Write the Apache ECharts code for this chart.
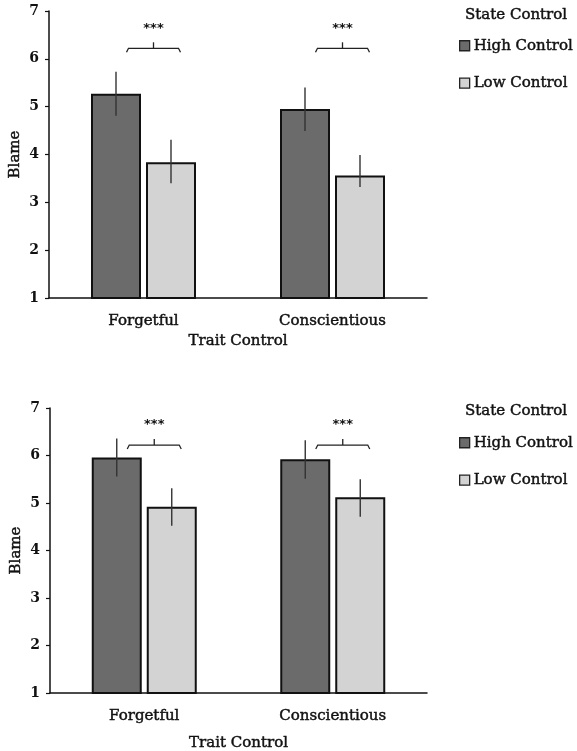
<!DOCTYPE html>
<html>
<head>
<meta charset="utf-8">
<script src="https://cdn.jsdelivr.net/npm/echarts/dist/echarts.min.js"></script>
<style>
  html, body { margin: 0; padding: 0; background: #fff; }
  #chart { width: 577px; height: 751px; }
</style>
</head>
<body>
<div id="chart"></div>
<script>
// Trait control groups on the x axis, state control as the two bars per group
const categories = ['Forgetful', 'Conscientious'];
const stateNames = ['High Control', 'Low Control'];
const yMin = 1, yMax = 7, yStep = 1;

// Upper panel: mean blame and error-bar bounds [low, high]
const topHigh = [5.27, 4.95];
const topLow = [3.84, 3.56];
const topHighErr = [[4.81, 5.73], [4.49, 5.40]];
const topLowErr = [[3.40, 4.31], [3.32, 3.99]];

// Lower panel
const botHigh = [5.96, 5.92];
const botLow = [4.92, 5.12];
const botHighErr = [[5.56, 6.36], [5.51, 6.32]];
const botLowErr = [[4.52, 5.31], [4.71, 5.50]];

// Significance brackets (same in both panels)
const sigLabels = ['***', '***'];
const bracketY = [6.22, 6.22];
const starY = [6.64, 6.64];

const FONT = 'DejaVu Serif';
const INK = '#111';
const BAR_W = 50;
const BAR_GAP = 5;
const HALF_STEP = (BAR_W + BAR_GAP) / 2;
// a faint outline of the same ink gives the serif text a little more weight
const HEAVY = { textBorderColor: INK, textBorderWidth: 0.45 };

function errSeries(name, grid, errs, side) {
  return {
    type: 'custom', name: name, xAxisIndex: grid, yAxisIndex: grid, z: 5,
    silent: true,
    data: errs.map((e, i) => [i, e[0], e[1]]),
    encode: { x: 0, y: [1, 2] },
    renderItem: function (params, api) {
      const c = api.value(0);
      const lo = api.coord([c, api.value(1)]);
      const hi = api.coord([c, api.value(2)]);
      const x = lo[0] + side * HALF_STEP;
      return {
        type: 'line',
        shape: { x1: x, y1: lo[1], x2: x, y2: hi[1] },
        style: { stroke: '#333', lineWidth: 1.4 }
      };
    }
  };
}

function bracketSeries(grid) {
  return {
    type: 'custom', xAxisIndex: grid, yAxisIndex: grid, z: 6, silent: true,
    data: categories.map((c, i) => [i, bracketY[i], starY[i]]),
    encode: { x: 0, y: [1, 2] },
    renderItem: function (params, api) {
      const i = api.value(0);
      const b = api.coord([i, api.value(1)]);
      const s = api.coord([i, api.value(2)]);
      const x1 = b[0] - 17, x2 = b[0] + 37, xm = (x1 + x2) / 2, y = b[1];
      return {
        type: 'group',
        children: [
          {
            type: 'polyline',
            shape: { points: [[x1, y + 4], [x1 + 2, y], [x2 - 2, y], [x2, y + 4]] },
            style: { stroke: '#222', lineWidth: 1.3, fill: null }
          },
          {
            type: 'line',
            shape: { x1: xm, y1: y, x2: xm, y2: y - 6 },
            style: { stroke: '#222', lineWidth: 1.3 }
          },
          {
            type: 'text',
            style: {
              text: sigLabels[i], x: xm, y: s[1],
              align: 'center', verticalAlign: 'middle',
              font: 'bold 13px "DejaVu Sans"', fill: '#111'
            }
          }
        ]
      };
    }
  };
}

function barSeries(name, grid, values, color) {
  return {
    type: 'bar', name: name, xAxisIndex: grid, yAxisIndex: grid,
    data: values, barWidth: BAR_W, barGap: (BAR_GAP / BAR_W * 100) + '%',
    itemStyle: { color: color, borderColor: INK, borderWidth: 2 },
    emphasis: { disabled: true }
  };
}

function xAxis(grid, nameGap) {
  return {
    type: 'category', gridIndex: grid, data: categories,
    axisLine: { show: true, lineStyle: { color: INK, width: 1.5 } },
    axisTick: { show: false },
    axisLabel: Object.assign({ color: INK, fontFamily: FONT, fontSize: 15, margin: 16 }, HEAVY),
    name: 'Trait Control', nameLocation: 'middle', nameGap: nameGap,
    nameMoveOverlap: false,
    nameTextStyle: Object.assign({ color: INK, fontFamily: FONT, fontSize: 15 }, HEAVY)
  };
}

function yAxis(grid) {
  return {
    type: 'value', gridIndex: grid, min: yMin, max: yMax, interval: yStep,
    axisLine: { show: true, lineStyle: { color: INK, width: 1.5 } },
    axisTick: { show: true, length: 4, lineStyle: { color: INK, width: 1.2 } },
    splitLine: { show: false },
    axisLabel: { color: INK, fontFamily: FONT, fontSize: 14, fontWeight: 'bold', margin: 10 },
    name: 'Blame', nameLocation: 'middle', nameGap: 26, nameRotate: 90,
    nameMoveOverlap: false,
    nameTextStyle: Object.assign({ color: INK, fontFamily: FONT, fontSize: 15 }, HEAVY)
  };
}

function legend(top) {
  return {
    orient: 'vertical', left: 459, top: top, padding: 0,
    itemWidth: 10, itemHeight: 10, itemGap: 22,
    icon: 'rect', selectedMode: false,
    data: stateNames,
    itemStyle: { borderColor: '#222', borderWidth: 1.3 },
    textStyle: Object.assign({ color: INK, fontFamily: FONT, fontSize: 15, padding: [0, 0, 0, -1] }, HEAVY)
  };
}

function stateTitle(top) {
  return {
    text: 'State Control', left: 465, top: top, padding: 0,
    textStyle: Object.assign({ color: INK, fontFamily: FONT, fontSize: 15, fontWeight: 'normal' }, HEAVY)
  };
}

const chart = echarts.init(document.getElementById('chart'), null, { renderer: 'canvas' });
chart.setOption({
  animation: false,
  backgroundColor: '#fff',
  title: [stateTitle(8), stateTitle(404)],
  legend: [legend(38), legend(435)],
  grid: [
    { left: 49, top: 11, width: 378, height: 287, containLabel: false, outerBoundsMode: 'none' },
    { left: 50, top: 408, width: 377, height: 285, containLabel: false, outerBoundsMode: 'none' }
  ],
  xAxis: [xAxis(0, 36), xAxis(1, 43)],
  yAxis: [yAxis(0), yAxis(1)],
  series: [
    barSeries(stateNames[0], 0, topHigh, '#6b6b6b'),
    barSeries(stateNames[1], 0, topLow, '#d3d3d3'),
    errSeries('errTopHigh', 0, topHighErr, -1),
    errSeries('errTopLow', 0, topLowErr, 1),
    bracketSeries(0),
    barSeries(stateNames[0], 1, botHigh, '#6b6b6b'),
    barSeries(stateNames[1], 1, botLow, '#d3d3d3'),
    errSeries('errBotHigh', 1, botHighErr, -1),
    errSeries('errBotLow', 1, botLowErr, 1),
    bracketSeries(1)
  ]
});
</script>
</body>
</html>
